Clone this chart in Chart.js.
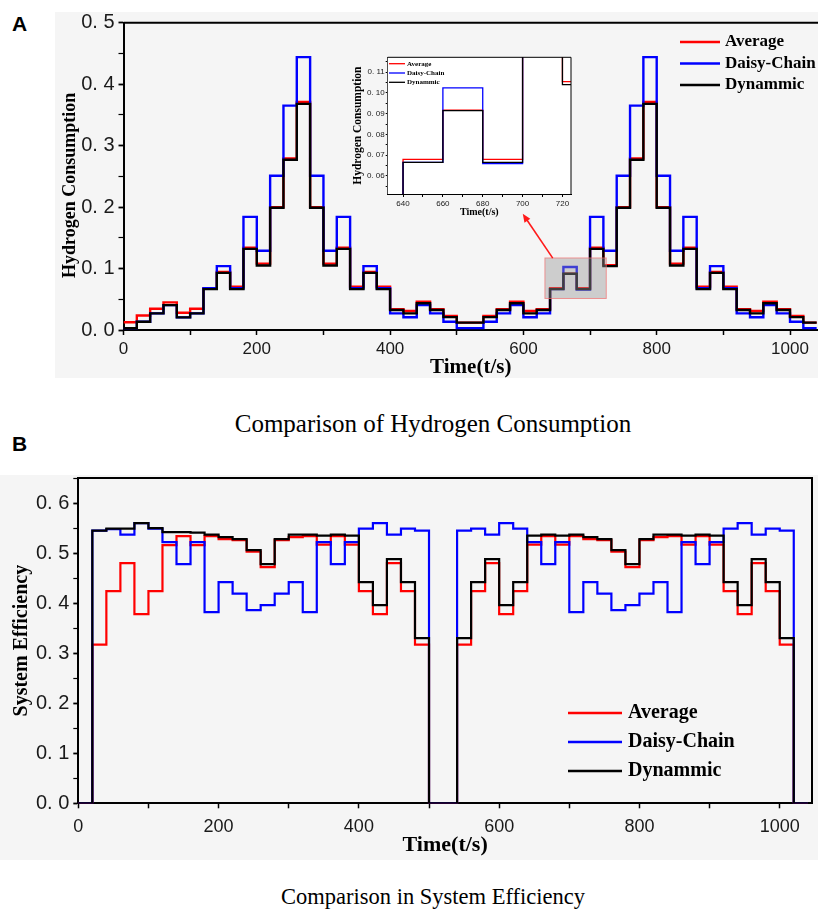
<!DOCTYPE html>
<html>
<head>
<meta charset="utf-8">
<script src="https://cdn.jsdelivr.net/npm/chart.js@4.4.1/dist/chart.umd.min.js"></script>
<style>
  html, body { margin: 0; padding: 0; background: #fff; }
  #page { position: relative; width: 818px; height: 916px; overflow: hidden; }
  .bg { position: absolute; background: #f5f5f5; }
  .tag { position: absolute; font-family: "Liberation Sans", Arial, sans-serif; font-weight: bold; font-size: 21px; line-height: 1; }
  .caption { position: absolute; left: 0; width: 866px; text-align: center;
             font-family: "Liberation Serif", "Times New Roman", serif; line-height: 1; }
  canvas { position: absolute; }
</style>
</head>
<body>
<div id="page">
  <div class="bg" style="left:55px; top:12px; width:763px; height:366px;"></div>
  <div class="bg" style="left:0; top:475px; width:818px; height:385px;"></div>
  <div class="tag" style="left:12px; top:13px;">A</div>
  <div class="tag" style="left:12px; top:433px;">B</div>
  <div class="caption" style="top:411px; font-size:25px;">Comparison of Hydrogen Consumption</div>
  <div class="caption" style="top:886px; font-size:22.5px;">Comparison in System Efficiency</div>
  <canvas id="hydrogen" width="818" height="382" style="left:0; top:0;"></canvas>
  <canvas id="zoomed" width="250" height="172" style="left:330px; top:50px;"></canvas>
  <canvas id="efficiency" width="818" height="400" style="left:0; top:462px;"></canvas>
</div>
<script>
// start of each 20 s step, plus the end of the last one
const timeEdges = [0, 20, 40, 60, 80, 100, 120, 140, 160, 180, 200, 220, 240, 260, 280, 300,
  320, 340, 360, 380, 400, 420, 440, 460, 480, 500, 520, 540, 560, 580, 600, 620, 640, 660,
  680, 700, 720, 740, 760, 780, 800, 820, 840, 860, 880, 900, 920, 940, 960, 980, 1000, 1020, 1040];

// hydrogen consumption per step
const avgH = [0.0125, 0.0235, 0.0345, 0.045, 0.028, 0.0345, 0.068, 0.0945, 0.0705, 0.134, 0.108, 0.200, 0.279,
  0.371, 0.200, 0.108, 0.134, 0.0705, 0.0945, 0.0705, 0.034, 0.031, 0.046, 0.034, 0.023, 0.012,
  0.012, 0.023, 0.034, 0.046, 0.031, 0.034, 0.068, 0.0917, 0.068, 0.134, 0.1055, 0.200, 0.279,
  0.371, 0.200, 0.108, 0.134, 0.0705, 0.0945, 0.0705, 0.034, 0.031, 0.046, 0.034, 0.023, 0.012];
const daisyH = [0.003, 0.0135, 0.027, 0.0405, 0.0205, 0.027, 0.068, 0.104, 0.068, 0.184, 0.129, 0.251, 0.365,
  0.444, 0.251, 0.129, 0.184, 0.068, 0.104, 0.068, 0.027, 0.0207, 0.0407, 0.027, 0.0135, 0.003,
  0.003, 0.0135, 0.027, 0.0407, 0.0207, 0.027, 0.0665, 0.1025, 0.066, 0.184, 0.129, 0.251, 0.365,
  0.444, 0.251, 0.129, 0.184, 0.068, 0.104, 0.068, 0.027, 0.0207, 0.0407, 0.027, 0.0135, 0.003];
const dynH = [0.003, 0.0135, 0.027, 0.0405, 0.0205, 0.027, 0.0665, 0.093, 0.0665, 0.132, 0.105, 0.199, 0.277,
  0.368, 0.199, 0.105, 0.132, 0.0665, 0.093, 0.0665, 0.0325, 0.027, 0.0435, 0.0325, 0.021, 0.012,
  0.012, 0.021, 0.0325, 0.0435, 0.027, 0.0325, 0.0665, 0.0915, 0.0665, 0.132, 0.104, 0.199, 0.277,
  0.368, 0.199, 0.105, 0.132, 0.0665, 0.093, 0.0665, 0.0325, 0.027, 0.0435, 0.0325, 0.021, 0.012];

// system efficiency per step
const avgE = [0, 0.317, 0.424, 0.48, 0.378, 0.424, 0.516, 0.534, 0.516, 0.534, 0.528, 0.526, 0.503,
  0.472, 0.526, 0.532, 0.534, 0.517, 0.534, 0.517, 0.424, 0.378, 0.48, 0.424, 0.317, 0,
  0, 0.317, 0.424, 0.48, 0.378, 0.424, 0.517, 0.534, 0.517, 0.534, 0.528, 0.526, 0.503,
  0.472, 0.526, 0.532, 0.534, 0.517, 0.534, 0.517, 0.424, 0.378, 0.48, 0.424, 0.317, 0];
const daisyE = [0, 0.545, 0.548, 0.537, 0.56, 0.549, 0.522, 0.478, 0.522, 0.382, 0.442, 0.419, 0.386,
  0.396, 0.419, 0.442, 0.382, 0.522, 0.478, 0.522, 0.549, 0.56, 0.537, 0.549, 0.545, 0,
  0, 0.545, 0.549, 0.537, 0.56, 0.549, 0.522, 0.478, 0.522, 0.382, 0.442, 0.419, 0.386,
  0.396, 0.419, 0.442, 0.382, 0.522, 0.478, 0.522, 0.549, 0.56, 0.537, 0.549, 0.545, 0];
const dynE = [0, 0.545, 0.549, 0.549, 0.56, 0.55, 0.542, 0.542, 0.541, 0.537, 0.532, 0.528, 0.506,
  0.478, 0.528, 0.537, 0.537, 0.535, 0.537, 0.535, 0.442, 0.396, 0.488, 0.442, 0.33, 0,
  0, 0.33, 0.442, 0.488, 0.396, 0.442, 0.535, 0.537, 0.535, 0.537, 0.532, 0.528, 0.506,
  0.478, 0.528, 0.537, 0.537, 0.535, 0.537, 0.535, 0.442, 0.396, 0.488, 0.442, 0.33, 0];

// window shown in the inset
const insetTime = [632.3, 724.3];
const insetRange = [0.0513, 0.1172];

Chart.defaults.font.family = '"Liberation Sans", Arial, sans-serif';
Chart.defaults.color = '#1a1a1a';

const SERIF = '"Liberation Serif", "Times New Roman", serif';

function steps(values) {
  const pts = values.map((v, i) => ({ x: timeEdges[i], y: v }));
  pts.push({ x: timeEdges[values.length], y: values[values.length - 1] });
  return pts;
}

function series(avg, daisy, dyn, width) {
  return [
    { label: 'Average', data: steps(avg), borderColor: '#ff0000', order: 2 },
    { label: 'Daisy-Chain', data: steps(daisy), borderColor: '#0000ff', order: 1 },
    { label: 'Dynammic', data: steps(dyn), borderColor: '#000000', order: 0 }
  ].map(d => Object.assign(d, { borderWidth: width, stepped: true, pointRadius: 0, fill: false }));
}

// top / right box lines
const frameLines = {
  id: 'frameLines',
  afterDraw(chart, args, o) {
    const { ctx, chartArea: a } = chart;
    ctx.save();
    ctx.strokeStyle = '#000';
    ctx.lineWidth = o.width;
    ctx.beginPath();
    ctx.moveTo(a.left, a.top);
    ctx.lineTo(a.right, a.top);
    if (o.right) ctx.lineTo(a.right, a.bottom);
    ctx.stroke();
    ctx.restore();
  }
};

const areaFill = {
  id: 'areaFill',
  beforeDatasetsDraw(chart, args, o) {
    if (!o.color) return;
    const { ctx, chartArea: a } = chart;
    ctx.save();
    ctx.fillStyle = o.color;
    ctx.fillRect(a.left, a.top, a.right - a.left, a.bottom - a.top);
    ctx.restore();
  }
};

// legend drawn at a fixed spot inside the plot
const keyBox = {
  id: 'keyBox',
  afterDraw(chart, args, o) {
    const ctx = chart.ctx;
    ctx.save();
    ctx.font = o.font;
    ctx.textBaseline = 'middle';
    ctx.fillStyle = '#000';
    chart.data.datasets.forEach((ds, i) => {
      const y = o.y + i * o.row;
      ctx.strokeStyle = ds.borderColor;
      ctx.lineWidth = o.lineWidth;
      ctx.beginPath();
      ctx.moveTo(o.x, y);
      ctx.lineTo(o.x + o.len, y);
      ctx.stroke();
      ctx.fillText(ds.label, o.x + o.len + o.gap, y);
    });
    ctx.restore();
  }
};

// grey box over the zoomed window and the arrow to the inset
const zoomMark = {
  id: 'zoomMark',
  afterDatasetsDraw(chart, args, o) {
    if (!o.box) return;
    const { ctx, scales: { x, y } } = chart;
    const x0 = x.getPixelForValue(o.box[0]), x1 = x.getPixelForValue(o.box[1]);
    const y0 = y.getPixelForValue(o.box[3]), y1 = y.getPixelForValue(o.box[2]);
    ctx.save();
    ctx.fillStyle = 'rgba(150,150,150,0.42)';
    ctx.fillRect(x0, y0, x1 - x0, y1 - y0);
    ctx.strokeStyle = 'rgba(240,110,110,0.7)';
    ctx.lineWidth = 1;
    ctx.strokeRect(x0, y0, x1 - x0, y1 - y0);
    const tx = x.getPixelForValue(o.tail[0]), ty = y.getPixelForValue(o.tail[1]);
    const hx = x.getPixelForValue(o.head[0]), hy = y.getPixelForValue(o.head[1]);
    const ang = Math.atan2(hy - ty, hx - tx);
    ctx.strokeStyle = '#ff1a1a';
    ctx.fillStyle = '#ff1a1a';
    ctx.lineWidth = 1.6;
    ctx.beginPath();
    ctx.moveTo(tx, ty);
    ctx.lineTo(hx - 6 * Math.cos(ang), hy - 6 * Math.sin(ang));
    ctx.stroke();
    ctx.beginPath();
    ctx.moveTo(hx, hy);
    ctx.lineTo(hx - 9 * Math.cos(ang - 0.4), hy - 9 * Math.sin(ang - 0.4));
    ctx.lineTo(hx - 9 * Math.cos(ang + 0.4), hy - 9 * Math.sin(ang + 0.4));
    ctx.closePath();
    ctx.fill();
    ctx.restore();
  }
};

function label1(v) {
  const r = Math.round(v * 100);
  return r % 10 === 0 ? (r / 100).toFixed(1).replace('.', '. ') : '';
}

function axisX(max, height, tickFont, pad, titleFont) {
  return {
    type: 'linear', min: 0, max: max,
    afterFit: s => { s.height = height; },
    border: { display: true, color: '#000', width: 2 },
    grid: { drawOnChartArea: false, tickLength: 5, tickColor: '#000', tickWidth: 1.5 },
    ticks: { stepSize: 100, autoSkip: false, maxRotation: 0, includeBounds: false, padding: pad,
             font: { size: tickFont }, callback: v => (v % 200 === 0 ? String(v) : '') },
    title: { display: true, text: 'Time(t/s)', color: '#000', padding: { top: 0, bottom: 0 },
             font: { family: SERIF, size: titleFont, weight: 'bold' } }
  };
}

function axisY(max, width, tickFont, text, titleFont, titlePad) {
  return {
    min: 0, max: max,
    afterFit: s => { s.width = width; },
    border: { display: true, color: '#000', width: 2 },
    grid: { drawOnChartArea: false, tickLength: 5, tickColor: '#000',
            tickWidth: c => (Math.round(c.tick.value * 100) % 10 === 0 ? 1.8 : 1.2) },
    ticks: { stepSize: 0.05, autoSkip: false, includeBounds: false, padding: 4,
             font: { size: tickFont }, callback: label1 },
    title: { display: true, text: text, color: '#000', padding: { top: titlePad, bottom: 0 },
             font: { family: SERIF, size: titleFont, weight: 'bold' } }
  };
}

const quiet = { legend: { display: false }, tooltip: { enabled: false } };

new Chart(document.getElementById('hydrogen'), {
  type: 'line',
  data: { datasets: series(avgH, daisyH, dynH, 2.4) },
  plugins: [frameLines, keyBox, zoomMark],
  options: {
    responsive: false, animation: false, events: [],
    layout: { padding: { top: 22.7, left: 0, right: 0, bottom: 1.4 } },
    plugins: Object.assign({}, quiet, {
      frameLines: { width: 2, right: false },
      keyBox: { x: 680, y: 42, row: 21.5, len: 40, gap: 5, lineWidth: 2.4, font: 'bold 17px ' + SERIF },
      zoomMark: { box: [insetTime[0], insetTime[1], insetRange[0], insetRange[1]],
                  tail: [644, 0.117], head: [599, 0.189] }
    }),
    scales: {
      x: axisX(1042, 50.6, 17, 4.6, 21),
      y: axisY(0.5, 123.5, 20, 'Hydrogen Consumption\u00a0\u00a0\u00a0\u00a0', 18, 59.2)
    }
  }
});

new Chart(document.getElementById('zoomed'), {
  type: 'line',
  data: { datasets: series(avgH, daisyH, dynH, 1.3) },
  plugins: [areaFill, frameLines, keyBox],
  options: {
    responsive: false, animation: false, events: [],
    layout: { padding: { top: 7.3, left: 0, right: 9, bottom: 3.3 } },
    plugins: Object.assign({}, quiet, {
      areaFill: { color: '#ffffff' },
      frameLines: { width: 1, right: true },
      keyBox: { x: 59, y: 13.7, row: 9.3, len: 16, gap: 2, lineWidth: 1.3, font: 'bold 7px ' + SERIF }
    }),
    scales: {
      x: {
        type: 'linear', min: insetTime[0], max: insetTime[1],
        afterFit: s => { s.height = 24.7; },
        border: { display: true, color: '#000', width: 1 },
        grid: { drawOnChartArea: false, tickLength: 3, tickColor: '#000', tickWidth: 1 },
        ticks: { stepSize: 10, autoSkip: false, maxRotation: 0, includeBounds: false, padding: 2,
                 font: { size: 8 }, callback: v => (Math.round(v) % 20 === 0 ? String(Math.round(v)) : '') },
        title: { display: true, text: 'Time(t/s)', color: '#000', padding: { top: 0, bottom: 0 },
                 font: { family: SERIF, size: 10, weight: 'bold' } }
      },
      y: {
        min: insetRange[0], max: insetRange[1],
        afterFit: s => { s.width = 57.7; },
        border: { display: true, color: '#000', width: 1 },
        grid: { drawOnChartArea: false, tickLength: 2, tickColor: '#000', tickWidth: 1 },
        ticks: { stepSize: 0.005, autoSkip: false, includeBounds: false, padding: 1, font: { size: 8 },
                 callback: v => { const r = Math.round(v * 1000); return r % 10 === 0 ? (r / 1000).toFixed(2).replace('.', '. ') : ''; } },
        title: { display: true, text: 'Hydrogen Consumption', color: '#000', padding: { top: 21.4, bottom: 0 },
                 font: { family: SERIF, size: 11.5, weight: 'bold' } }
      }
    }
  }
});

new Chart(document.getElementById('efficiency'), {
  type: 'line',
  data: { datasets: series(avgE, daisyE, dynE, 2.2) },
  plugins: [frameLines, keyBox],
  options: {
    responsive: false, animation: false, events: [],
    layout: { padding: { top: 11.3, left: 0, right: 6, bottom: 3.8 } },
    plugins: Object.assign({}, quiet, {
      frameLines: { width: 2, right: true },
      keyBox: { x: 568, y: 251, row: 29, len: 54, gap: 6, lineWidth: 2.4, font: 'bold 20px ' + SERIF }
    }),
    scales: {
      x: axisX(1046, 54.9, 18, 7.6, 22),
      y: axisY(0.65, 78.3, 20, 'System Efficiency', 20, 9.7)
    }
  }
});
</script>
</body>
</html>
